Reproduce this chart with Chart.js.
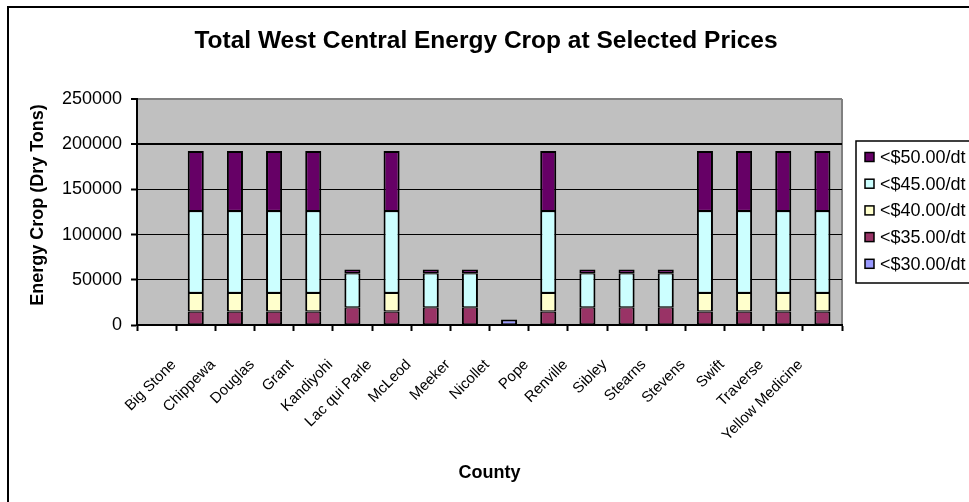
<!DOCTYPE html>
<html>
<head>
<meta charset="utf-8">
<script src="https://cdn.jsdelivr.net/npm/chart.js@4.4.1/dist/chart.umd.min.js"></script>
<style>
  html, body { margin: 0; padding: 0; background: #fff; overflow: hidden; }
  #wrap { width: 969px; height: 502px; position: relative; }
</style>
</head>
<body>
<div id="wrap"><canvas id="c" width="969" height="502"></canvas></div>
<script>
// Counties along the x axis (first slot is left blank)
const categories = ['', 'Big Stone', 'Chippewa', 'Douglas', 'Grant', 'Kandiyohi', 'Lac qui Parle',
  'McLeod', 'Meeker', 'Nicollet', 'Pope', 'Renville', 'Sibley', 'Stearns', 'Stevens',
  'Swift', 'Traverse', 'Yellow Medicine'];

// Price levels, stacked bottom to top
const priceLevels = ['<$30.00/dt', '<$35.00/dt', '<$40.00/dt', '<$45.00/dt', '<$50.00/dt'];

// Dry tons available in each price band, per county
const under30 = [null, null, null, null, null, null, null, null, null, 6000, null, null, null, null, null, null, null, null];
const under35 = [null, 15000, 15000, 15000, 15000, 19500, 15000, 19500, 19500, null, 15000, 19500, 19500, 19500, 15000, 15000, 15000, 15000];
const under40 = [null, 20500, 20500, 20500, 20500, null, 20500, null, null, null, 20500, null, null, null, 20500, 20500, 20500, 20500];
const under45 = [null, 90500, 90500, 90500, 90500, 37800, 90500, 37800, 37800, null, 90500, 37800, 37800, 37800, 90500, 90500, 90500, 90500];
const under50 = [null, 66500, 66500, 66500, 66500, 4100, 66500, 4100, 4100, null, 66500, 4100, 4100, 4100, 66500, 66500, 66500, 66500];

// Value axis ticks
const yTicks = [0, 50000, 100000, 150000, 200000, 250000];

const chartTitle = 'Total West Central Energy Crop at Selected Prices';
const yAxisTitle = 'Energy Crop (Dry Tons)';

const seriesValues = [under30, under35, under40, under45, under50];
const seriesColors = ['#9999FF', '#993366', '#FFFFCC', '#CCFFFF', '#660066'];

const FONT = 'Arial, "Liberation Sans", sans-serif';
Chart.defaults.font.family = FONT;
Chart.defaults.color = '#000';

// true when no band above this one has a value in the same column
function isTopSegment(ctx) {
  const ds = ctx.chart.data.datasets;
  for (let k = ctx.datasetIndex + 1; k < ds.length; k++) {
    const v = ds[k].data[ctx.dataIndex];
    if (v !== null && v !== undefined && v !== 0) return false;
  }
  return true;
}

const datasets = priceLevels.map((label, i) => ({
  label: label,
  data: seriesValues[i],
  backgroundColor: seriesColors[i],
  borderColor: '#000',
  borderSkipped: false,
  borderWidth: (ctx) => ({ left: 2, right: 2, top: isTopSegment(ctx) ? 2 : 1.2, bottom: 1.2 }),
  barPercentage: 0.41,
  categoryPercentage: 1.0,
  stack: 'crop'
}));

// Frame, grey plot background, plot border, heading and value-axis title
const backdrop = {
  id: 'backdrop',
  beforeDraw(chart, args, o) {
    const { ctx, chartArea: a } = chart;
    ctx.save();
    ctx.fillStyle = '#fff';
    ctx.fillRect(0, 0, chart.width, chart.height);
    ctx.strokeStyle = '#000';
    ctx.lineWidth = 2;
    ctx.strokeRect(8, 7, chart.width + 40, chart.height + 40);
    ctx.fillStyle = '#C0C0C0';
    ctx.fillRect(a.left, a.top, a.right - a.left, a.bottom - a.top);
    ctx.strokeStyle = '#808080';
    ctx.beginPath();
    ctx.moveTo(a.right, a.top);
    ctx.lineTo(a.right, a.bottom);
    ctx.stroke();

    ctx.fillStyle = '#000';
    ctx.font = 'bold ' + o.titleSize + 'px ' + FONT;
    ctx.textAlign = 'center';
    ctx.textBaseline = 'alphabetic';
    ctx.fillText(chartTitle, o.titleX, o.titleBaseline);

    ctx.font = 'bold ' + o.axisTitleSize + 'px ' + FONT;
    ctx.textBaseline = 'middle';
    ctx.translate(o.yTitleX, o.yTitleY);
    ctx.rotate(-Math.PI / 2);
    ctx.fillText(yAxisTitle, 0, 0);
    ctx.restore();
  }
};

// Boxed legend at the right edge, highest price first
const boxLegend = {
  id: 'boxLegend',
  afterDraw(chart, args, o) {
    const ctx = chart.ctx;
    ctx.save();
    ctx.fillStyle = '#fff';
    ctx.fillRect(o.x, o.y, o.w, o.h);
    ctx.strokeStyle = '#000';
    ctx.lineWidth = 1.5;
    ctx.strokeRect(o.x, o.y, o.w, o.h);
    ctx.font = o.fontSize + 'px ' + FONT;
    ctx.textBaseline = 'middle';
    ctx.textAlign = 'left';
    const items = chart.data.datasets.slice().reverse();
    items.forEach((d, i) => {
      const cy = o.firstRow + i * o.rowGap;
      ctx.fillStyle = d.backgroundColor;
      ctx.fillRect(o.markerX, cy - o.marker / 2 - 1, o.marker, o.marker);
      ctx.lineWidth = 1.5;
      ctx.strokeStyle = '#000';
      ctx.strokeRect(o.markerX, cy - o.marker / 2 - 1, o.marker, o.marker);
      ctx.fillStyle = '#000';
      ctx.fillText(d.label, o.textX, cy);
    });
    ctx.restore();
  }
};

new Chart(document.getElementById('c'), {
  type: 'bar',
  data: { labels: categories, datasets: datasets },
  plugins: [backdrop, boxLegend],
  options: {
    responsive: false,
    animation: false,
    events: [],
    layout: { padding: { left: 10, right: 127, top: 99, bottom: 0 } },
    plugins: {
      legend: { display: false },
      tooltip: { enabled: false },
      title: { display: false },
      backdrop: {
        titleSize: 24.5, titleX: 486, titleBaseline: 48,
        axisTitleSize: 18, yTitleX: 38, yTitleY: 205
      },
      boxLegend: {
        x: 856, y: 141, w: 140, h: 142,
        markerX: 865, marker: 9,
        textX: 880, firstRow: 158, rowGap: 26.7, fontSize: 18
      }
    },
    scales: {
      x: {
        stacked: true,
        afterFit: (scale) => { scale.height = 177; },
        grid: {
          display: true, drawOnChartArea: false, drawTicks: true,
          offset: true, tickLength: 6, tickColor: '#000', tickWidth: 2
        },
        border: { display: true, color: '#000', width: 2 },
        ticks: {
          autoSkip: false, minRotation: 45, maxRotation: 45,
          padding: 25, labelOffset: -22,
          font: { size: 15 }, color: '#000'
        },
        title: {
          display: true, text: 'County',
          font: { size: 18, weight: 'bold' }, color: '#000',
          padding: { top: 0, bottom: 18 }
        }
      },
      y: {
        stacked: true,
        min: yTicks[0],
        max: yTicks[yTicks.length - 1],
        afterFit: (scale) => { scale.width = 127; },
        afterBuildTicks: (scale) => { scale.ticks = yTicks.map(v => ({ value: v })); },
        grid: {
          color: (c) => (c.tick && c.tick.value === yTicks[yTicks.length - 1]) ? '#808080' : '#000',
          lineWidth: (c) => (c.tick && (c.tick.value === 200000 || c.tick.value === yTicks[yTicks.length - 1])) ? 2 : 1,
          tickColor: '#000', tickWidth: 2, tickLength: 6, drawTicks: true
        },
        border: { display: true, color: '#000', width: 2 },
        ticks: {
          padding: 9,
          font: { size: 18 }, color: '#000',
          callback: (v) => String(v)
        },
        title: { display: false }
      }
    }
  }
});
</script>
</body>
</html>
